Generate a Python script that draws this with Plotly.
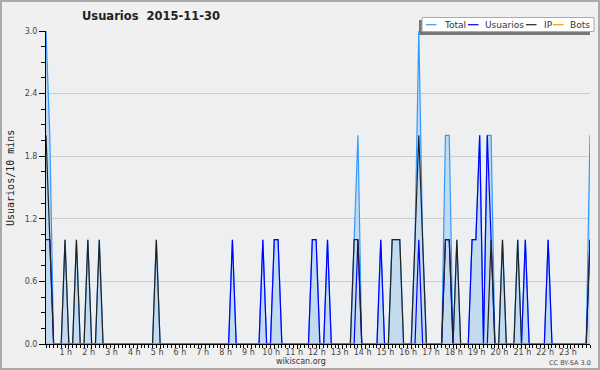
import plotly.graph_objects as go

# 10-minute slots of 2015-11-30 (144 points)
slots = list(range(144))

usuarios = [0] * 144
for i, v in {0: 1, 1: 1, 49: 1, 57: 1, 60: 1, 61: 1, 70: 1, 71: 1, 74: 1, 82: 1, 88: 1,
             98: 1, 105: 1, 106: 1, 112: 1, 113: 1, 114: 2, 116: 2, 117: 1, 126: 1,
             132: 1, 143: 1}.items():
    usuarios[i] = v

ip = [0] * 144
for i, v in {0: 2, 1: 1, 5: 1, 8: 1, 11: 1, 14: 1, 29: 1, 81: 1, 82: 1, 91: 1, 92: 1,
             93: 1, 97: 1, 98: 2, 99: 1, 105: 1, 106: 1, 108: 1, 117: 1, 120: 1,
             124: 1, 143: 1}.items():
    ip[i] = v

bots = [0] * 144
total = [u + p + b for u, p, b in zip(usuarios, ip, bots)]

hour_ticks = list(range(6, 144, 6))
hour_labels = [f"{h} h" for h in range(1, 24)]
y_ticks = [0.0, 0.6, 1.2, 1.8, 2.4, 3.0]

# layout geometry (pixels)
W, H = 600, 370
L, R, T, B = 46, 590, 31, 344


def px(x):
    return (x - L) / (R - L)


def py(y):
    return (B - y) / (B - T)


fig = go.Figure()
fig.add_trace(go.Scatter(x=slots, y=total, mode="lines", name="Total",
                         line=dict(color="#3399ff", width=1.2),
                         fill="tozeroy", fillcolor="#c4dbef"))
fig.add_trace(go.Scatter(x=slots, y=usuarios, mode="lines", name="Usuarios",
                         line=dict(color="#0000ff", width=1.2)))
fig.add_trace(go.Scatter(x=slots, y=ip, mode="lines", name="IP",
                         line=dict(color="#222222", width=1.2)))
fig.add_trace(go.Scatter(x=slots, y=bots, mode="lines", name="Bots",
                         line=dict(color="#ff9900", width=1.2)))

shapes = [
    # outer border
    dict(type="rect", xref="paper", yref="paper", x0=px(1), x1=px(599), y0=py(1), y1=py(369),
         line=dict(color="#aaaaaa", width=2), fillcolor="rgba(0,0,0,0)", layer="above"),
    # legend shadow
    dict(type="rect", xref="paper", yref="paper", x0=px(419), x1=px(590), y0=py(20), y1=py(35),
         line=dict(width=0), fillcolor="#777777", layer="above"),
    # legend box
    dict(type="rect", xref="paper", yref="paper", x0=px(422), x1=px(594), y0=py(17.5), y1=py(31.5),
         line=dict(color="#aaaaaa", width=1), fillcolor="#ffffff", layer="above"),
]
annotations = []
legend_items = [("Total", "#3399ff", 426, 443), ("Usuarios", "#0000ff", 468, 483.5),
                ("IP", "#222222", 526, 543), ("Bots", "#ff9900", 553, 568.5)]
for name, col, lx, tx in legend_items:
    shapes.append(dict(type="line", xref="paper", yref="paper", x0=px(lx), x1=px(lx + 10.5),
                       y0=py(24.7), y1=py(24.7), line=dict(color=col, width=1.2), layer="above"))
    annotations.append(dict(text=name, xref="paper", yref="paper", x=px(tx - 1), y=py(24.7),
                            xanchor="left", yanchor="middle", showarrow=False,
                            font=dict(family="DejaVu Sans", size=9, color="#333333")))

annotations += [
    dict(text="<b>Usuarios  2015-11-30</b>", xref="paper", yref="paper", x=px(151), y=py(16),
         xanchor="center", yanchor="middle", showarrow=False,
         font=dict(family="DejaVu Sans", size=11.5, color="#222222")),
    dict(text="Usuarios/10 mins", xref="paper", yref="paper", x=px(10), y=py(178),
         xanchor="center", yanchor="middle", showarrow=False, textangle=-90,
         font=dict(family="DejaVu Sans Mono", size=10, color="#222222")),
    dict(text="wikiscan.org", xref="paper", yref="paper", x=px(301), y=py(361.5),
         xanchor="center", yanchor="middle", showarrow=False,
         font=dict(family="DejaVu Sans", size=8, color="#333333")),
    dict(text="CC BY-SA 3.0", xref="paper", yref="paper", x=px(570), y=py(362.5),
         xanchor="center", yanchor="middle", showarrow=False,
         font=dict(family="DejaVu Sans", size=6.5, color="#444444")),
]

fig.update_layout(
    width=W, height=H,
    margin=dict(l=L, r=W - R, t=T, b=H - B),
    paper_bgcolor="#f0f0f0", plot_bgcolor="#eeeff1",
    showlegend=False,
    shapes=shapes, annotations=annotations,
    xaxis=dict(range=[0, 143], tickmode="array", tickvals=hour_ticks, ticktext=hour_labels,
               ticks="outside", ticklen=4, tickcolor="#000000", tickwidth=1,
               ticklabelstandoff=-4, ticklabelshift=-3,
               showline=True, linecolor="#000000", linewidth=1, showgrid=False, zeroline=False,
               tickfont=dict(family="DejaVu Sans", size=8, color="#444444"),
               minor=dict(tickmode="linear", dtick=1, tick0=0, ticks="outside", ticklen=3,
                          tickcolor="#000000", showgrid=False)),
    yaxis=dict(range=[0, 3], tickmode="array", tickvals=y_ticks, tickformat=".1f",
               ticks="outside", ticklen=6, tickcolor="#000000", tickwidth=1,
               showline=True, linecolor="#000000", linewidth=1,
               showgrid=True, gridcolor="#cccccc", gridwidth=1, zeroline=False,
               tickfont=dict(family="DejaVu Sans", size=8, color="#444444"),
               minor=dict(tickmode="linear", dtick=0.15, tick0=0, ticks="outside", ticklen=4,
                          tickcolor="#000000", showgrid=False)),
)

fig.write_html("out.html", config={"displayModeBar": False},
               post_script="document.body.style.margin='0';document.body.style.overflow='hidden';")
